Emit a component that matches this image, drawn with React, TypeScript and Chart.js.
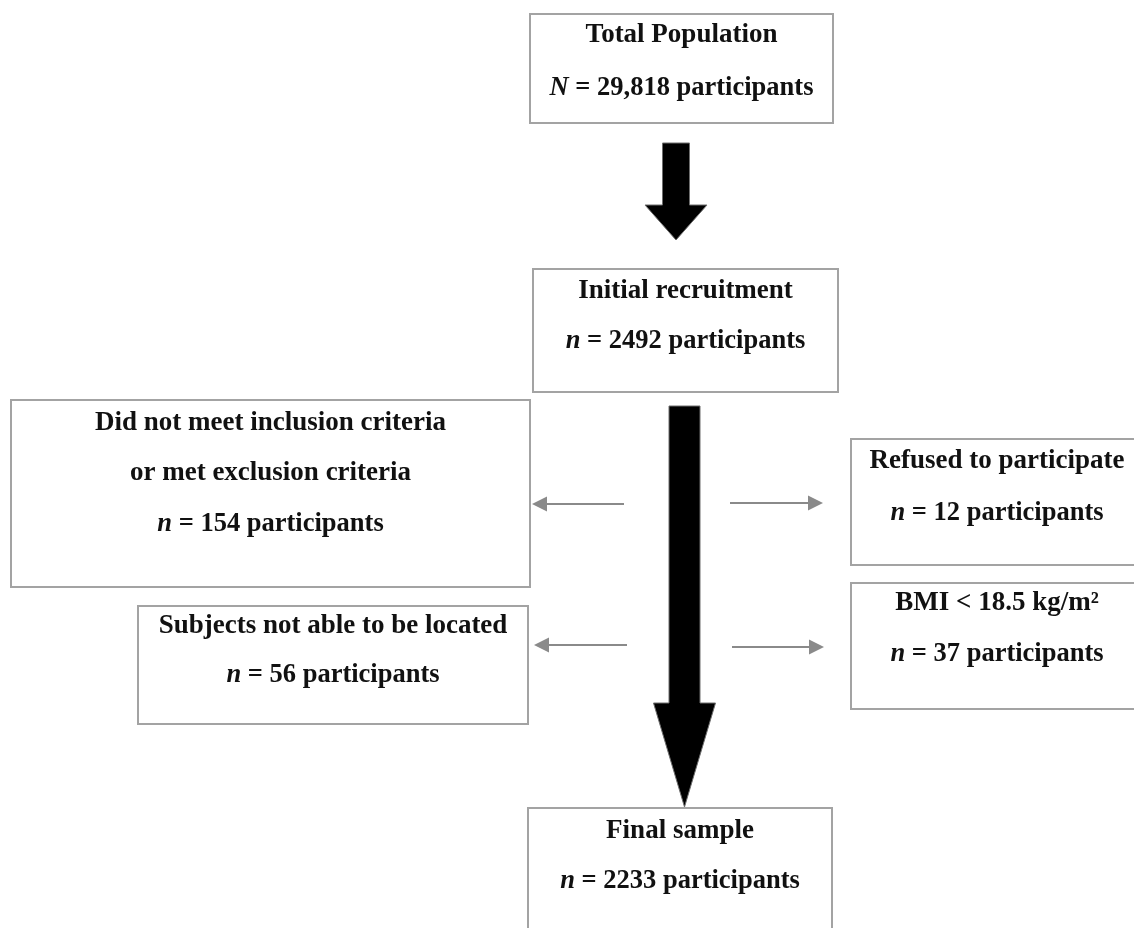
import React, { useEffect, useRef } from "react";
import { Chart, registerables } from "chart.js";

Chart.register(...registerables);

// ---- data ----
const stageTitles: string[][] = [
  ["Total Population"],
  ["Initial recruitment"],
  ["Did not meet inclusion criteria", "or met exclusion criteria"],
  ["Refused to participate"],
  ["Subjects not able to be located"],
  ["BMI < 18.5 kg/m²"],
  ["Final sample"],
];
const countSymbols = ["N", "n", "n", "n", "n", "n", "n"];
const participantCounts = [29818, 2492, 154, 12, 56, 37, 2233];
const countUnit = "participants";

// ---- layout (data-space units of the hidden x/y scales) ----
const boxRects = [
  { x0: 530, x1: 833, y0: 14, y1: 123 },
  { x0: 533, x1: 838, y0: 269, y1: 392 },
  { x0: 11, x1: 530, y0: 400, y1: 587 },
  { x0: 851, x1: 1145, y0: 439, y1: 565 },
  { x0: 138, x1: 528, y0: 606, y1: 724 },
  { x0: 851, x1: 1145, y0: 583, y1: 709 },
  { x0: 528, x1: 832, y0: 808, y1: 940 },
];
const lineCenters = [
  [35, 88],
  [291, 341],
  [423, 473, 524],
  [461, 513],
  [626, 675],
  [603, 654],
  [831, 881],
];
const bigArrows = [
  { cx: 676, top: 143, shaftHalf: 13.5, headStart: 205, headHalf: 31, tip: 240 },
  { cx: 684.5, top: 406, shaftHalf: 15.5, headStart: 703, headHalf: 31, tip: 807 },
];
const sideArrows = [
  { from: 624, to: 532, y: 504 },
  { from: 730, to: 823, y: 503 },
  { from: 627, to: 534, y: 645 },
  { from: 732, to: 824, y: 647 },
];

const FONT_FAMILY = '"Liberation Serif", "Times New Roman", serif';
const TITLE_SIZE = 27;
const COUNT_SIZE = 26.5;

function formatCount(v: number): string {
  return v >= 10000 ? v.toLocaleString("en-US") : String(v);
}

const flowPlugin = {
  id: "flowchart",
  afterDraw(chart: any) {
    const ctx: CanvasRenderingContext2D = chart.ctx;
    const xs = chart.scales.x;
    const ys = chart.scales.y;
    const X = (v: number) => xs.getPixelForValue(v);
    const Y = (v: number) => ys.getPixelForValue(v);

    ctx.save();
    ctx.fillStyle = "#ffffff";
    ctx.fillRect(0, 0, chart.width, chart.height);

    // boxes
    ctx.strokeStyle = "#a3a3a3";
    ctx.lineWidth = 2;
    boxRects.forEach((r) => {
      ctx.strokeRect(X(r.x0), Y(r.y0), X(r.x1) - X(r.x0), Y(r.y1) - Y(r.y0));
    });

    // big black arrows
    bigArrows.forEach((a) => {
      ctx.beginPath();
      ctx.moveTo(X(a.cx - a.shaftHalf), Y(a.top));
      ctx.lineTo(X(a.cx + a.shaftHalf), Y(a.top));
      ctx.lineTo(X(a.cx + a.shaftHalf), Y(a.headStart));
      ctx.lineTo(X(a.cx + a.headHalf), Y(a.headStart));
      ctx.lineTo(X(a.cx), Y(a.tip));
      ctx.lineTo(X(a.cx - a.headHalf), Y(a.headStart));
      ctx.lineTo(X(a.cx - a.shaftHalf), Y(a.headStart));
      ctx.closePath();
      ctx.fillStyle = "#000000";
      ctx.fill();
      ctx.strokeStyle = "#6e6e6e";
      ctx.lineWidth = 1;
      ctx.stroke();
    });

    // side gray arrows
    sideArrows.forEach((a) => {
      const dir = a.to > a.from ? 1 : -1;
      const headLen = 15;
      const headHalf = 7.5;
      ctx.strokeStyle = "#8a8a8a";
      ctx.fillStyle = "#8a8a8a";
      ctx.lineWidth = 2;
      ctx.beginPath();
      ctx.moveTo(X(a.from), Y(a.y));
      ctx.lineTo(X(a.to) - dir * headLen, Y(a.y));
      ctx.stroke();
      ctx.beginPath();
      ctx.moveTo(X(a.to), Y(a.y));
      ctx.lineTo(X(a.to) - dir * headLen, Y(a.y) - headHalf);
      ctx.lineTo(X(a.to) - dir * headLen, Y(a.y) + headHalf);
      ctx.closePath();
      ctx.fill();
    });

    // texts
    ctx.fillStyle = "#111111";
    ctx.textBaseline = "middle";
    ctx.textAlign = "left";
    const bold = `bold ${TITLE_SIZE}px ${FONT_FAMILY}`;
    const boldC = `bold ${COUNT_SIZE}px ${FONT_FAMILY}`;
    const boldItalic = `italic bold ${COUNT_SIZE}px ${FONT_FAMILY}`;
    stageTitles.forEach((titles, i) => {
      const r = boxRects[i];
      const cx = (X(r.x0) + X(Math.min(r.x1, 1143))) / 2;
      const centers = lineCenters[i];
      titles.forEach((t, j) => {
        ctx.font = bold;
        const w = ctx.measureText(t).width;
        ctx.fillText(t, cx - w / 2, Y(centers[j]));
      });
      const sym = countSymbols[i];
      const rest = ` = ${formatCount(participantCounts[i])} ${countUnit}`;
      ctx.font = boldItalic;
      const ws = ctx.measureText(sym).width;
      ctx.font = boldC;
      const wr = ctx.measureText(rest).width;
      const start = cx - (ws + wr) / 2;
      const yy = Y(centers[titles.length]);
      ctx.font = boldItalic;
      ctx.fillText(sym, start, yy);
      ctx.font = boldC;
      ctx.fillText(rest, start + ws, yy);
    });
    ctx.restore();
  },
};

export default function App() {
  const canvasRef = useRef<HTMLCanvasElement | null>(null);
  useEffect(() => {
    const canvas = canvasRef.current;
    if (!canvas) return;
    const chart = new Chart(canvas, {
      type: "scatter",
      data: { datasets: [] },
      options: {
        animation: false,
        responsive: false,
        maintainAspectRatio: false,
        layout: { padding: 0 },
        plugins: { legend: { display: false }, tooltip: { enabled: false } },
        scales: {
          x: { type: "linear", min: 0, max: 1134, display: false },
          y: { type: "linear", min: 0, max: 928, reverse: true, display: false },
        },
      },
      plugins: [flowPlugin],
    } as any);
    return () => chart.destroy();
  }, []);
  return (
    <div style={{ position: "absolute", left: 0, top: 0, width: 1134, height: 928, background: "#fff" }}>
      <canvas ref={canvasRef} width={1134} height={928} style={{ display: "block", width: 1134, height: 928 }} />
    </div>
  );
}
